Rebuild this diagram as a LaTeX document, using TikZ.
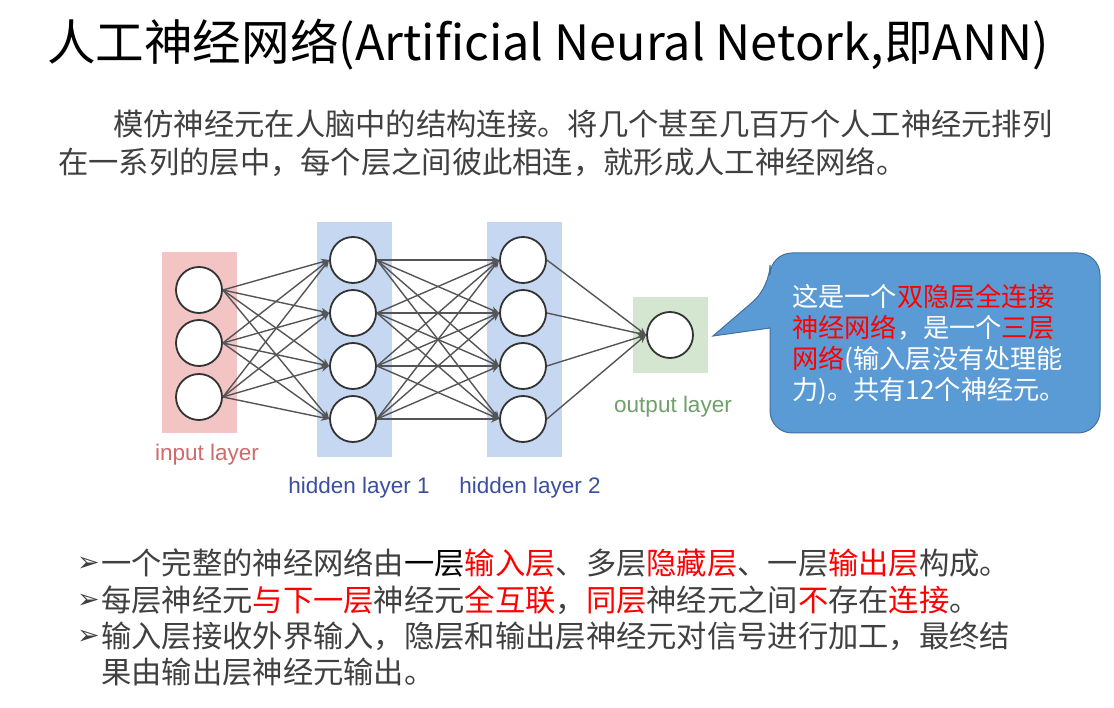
\documentclass[tikz,border=0pt]{standalone}
\usepackage{fontspec}
\setmainfont{Noto Sans CJK SC}
\newfontfamily\labfont{Liberation Sans}
\newfontfamily\symfont{DejaVu Sans}
\usetikzlibrary{arrows.meta}
\definecolor{txt}{HTML}{404040}
\definecolor{hl}{HTML}{FF0000}
\definecolor{pinkbg}{HTML}{F2C4C4}
\definecolor{bluebg}{HTML}{C6D7F2}
\definecolor{greenbg}{HTML}{D5E6D0}
\definecolor{calloutfill}{HTML}{5B9BD5}
\definecolor{calloutline}{HTML}{41719C}
\definecolor{inlab}{HTML}{D06A6A}
\definecolor{hidlab}{HTML}{3A4FA0}
\definecolor{outlab}{HTML}{6FA06A}
\definecolor{edgec}{HTML}{555555}
\newcommand{\hlr}[1]{\textcolor{hl}{#1}}
\tikzset{
  neuron/.style={circle, draw=black!80, line width=1.8pt, fill=white, minimum size=46pt, inner sep=0pt},
  conn/.style={draw=edgec, line width=1.4pt, -{Stealth[length=8pt,width=7pt]}},
  txtline/.style={anchor=west, inner sep=0pt, text=txt, font=\fontsize{30.3}{36}\selectfont},
  cline/.style={anchor=west, inner sep=0pt, text=white, font=\fontsize{26.2}{31}\selectfont},
  laylab/.style={inner sep=0pt, font=\labfont\fontsize{22.5}{26}\selectfont},
  bulletmark/.style={anchor=west, inner sep=0pt, text=txt, font=\symfont\fontsize{27}{30}\selectfont},
}
\begin{document}
\begin{tikzpicture}[x=1pt,y=-1pt]
\useasboundingbox[fill=white] (0,0) rectangle (1114,708);

% title
\node[anchor=west, inner sep=0pt, font=\fontsize{48.6}{56}\selectfont] (title) at (47,45) {人工神经网络(Artificial Neural Netork,即ANN)};

% paragraph
\node[txtline] (p1) at (113,124) {模仿神经元在人脑中的结构连接。将几个甚至几百万个人工神经元排列};
\node[txtline] (p2) at (58,162) {在一系列的层中，每个层之间彼此相连，就形成人工神经网络。};

% layer backgrounds
\fill[pinkbg] (162,252) rectangle (237,433);
\fill[bluebg] (317,222) rectangle (392,457);
\fill[bluebg] (487,222) rectangle (562,457);
\fill[greenbg] (633,297) rectangle (708,373);

% neurons
\node[neuron] (i1) at (199,290) {};
\node[neuron] (i2) at (199,343) {};
\node[neuron] (i3) at (199,397) {};
\node[neuron] (a1) at (353,260) {};
\node[neuron] (a2) at (353,313) {};
\node[neuron] (a3) at (353,366) {};
\node[neuron] (a4) at (353,419) {};
\node[neuron] (b1) at (523,260) {};
\node[neuron] (b2) at (523,313) {};
\node[neuron] (b3) at (523,366) {};
\node[neuron] (b4) at (523,419) {};
\node[neuron] (o) at (670,335) {};

% connections
\foreach \i in {1,2,3}{\foreach \j in {1,2,3,4}{\draw[conn] (i\i.east) -- (a\j.west);}}
\foreach \i in {1,2,3,4}{\foreach \j in {1,2,3,4}{\draw[conn] (a\i.east) -- (b\j.west);}}
\foreach \i in {1,2,3,4}{\draw[conn] (b\i.east) -- (o.west);}

% layer labels
\node[laylab, text=inlab] (linput) at (207,455) {input layer};
\node[laylab, text=hidlab] (lh1) at (359,488) {hidden layer 1};
\node[laylab, text=hidlab] (lh2) at (530,488) {hidden layer 2};
\node[laylab, text=outlab] (lout) at (673,407) {output layer};

% callout
\draw[fill=calloutfill, draw=calloutline, line width=1pt, rounded corners=22pt]
  (1100,340) -- (1100,253) -- (770,253) -- (770,287) [sharp corners] -- (713,336) -- (770,328) [rounded corners=22pt] -- (770,433) -- (1100,433) -- cycle;
\node[cline] (c1) at (792,297) {这是一个\hlr{双隐层全连接}};
\node[cline] (c2) at (792,328) {\hlr{神经网络}，是一个\hlr{三层}};
\node[cline] (c3) at (792,360) {\hlr{网络}(输入层没有处理能};
\node[cline] (c4) at (792,391) {力)。共有12个神经元。};

% bullets
\node[bulletmark] (m1) at (77,564) {➢};
\node[bulletmark] (m2) at (77,601) {➢};
\node[bulletmark] (m3) at (77,637) {➢};
\node[txtline] (b1t) at (101,563) {一个完整的神经网络由\textcolor{black}{一层}\hlr{输入层}、多层\hlr{隐藏层}、一层\hlr{输出层}构成。};
\node[txtline] (b2t) at (101,600) {每层神经元\hlr{与下一层}神经元\hlr{全互联}，\hlr{同层}神经元之间\hlr{不}存在\hlr{连接}。};
\node[txtline] (b3t) at (101,636) {输入层接收外界输入，隐层和输出层神经元对信号进行加工，最终结};
\node[txtline] (b4t) at (101,672) {果由输出层神经元输出。};
\end{tikzpicture}
\end{document}
